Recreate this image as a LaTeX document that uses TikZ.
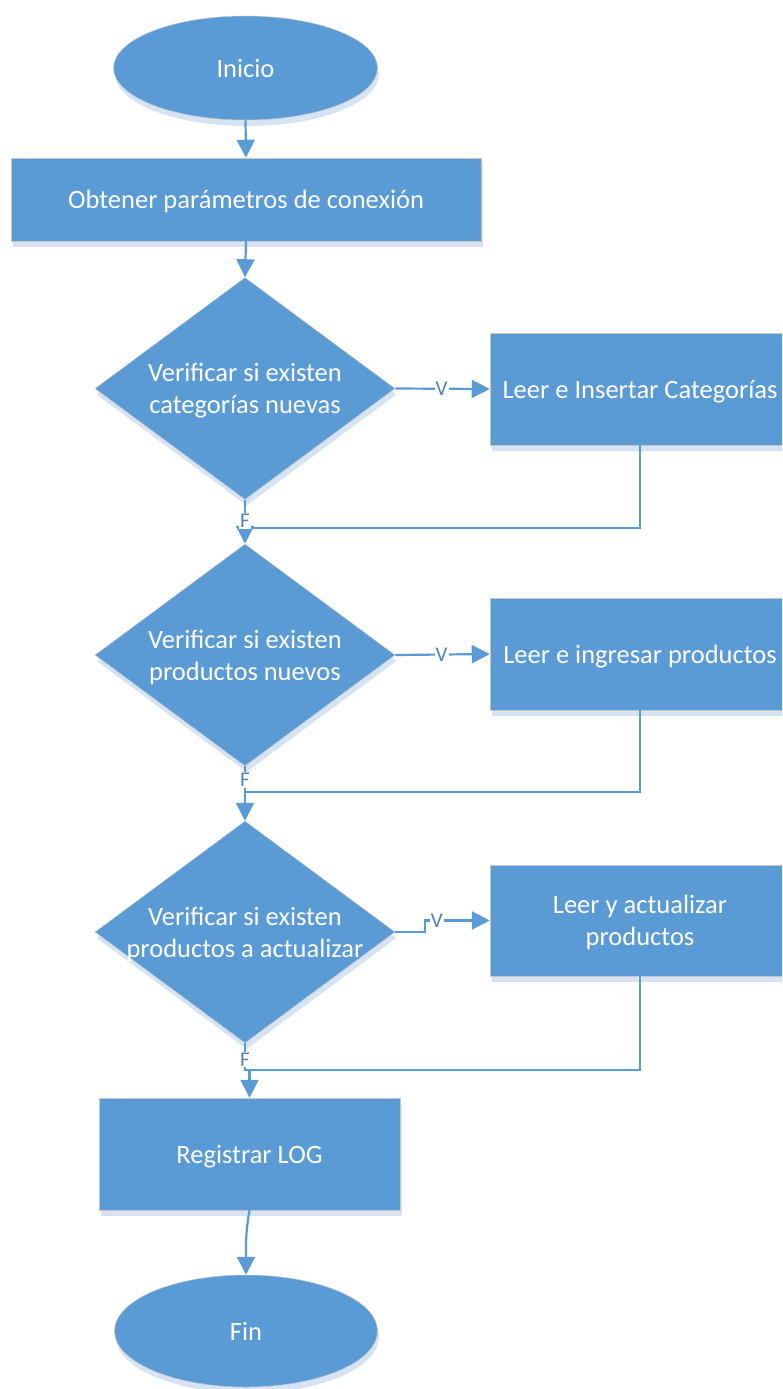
\documentclass[tikz,border=0pt]{standalone}
\usepackage{fontspec}
\setmainfont{Carlito}
\usetikzlibrary{shapes.geometric,arrows.meta,shadows,calc}
\definecolor{boxblue}{HTML}{5B9BD5}
\definecolor{shadowc}{HTML}{D5E3F2}
\definecolor{lblc}{HTML}{4F81BD}
\tikzset{
  shp/.style={fill=boxblue, draw=black!22, line width=0.5pt,
    drop shadow={shadow xshift=1.5pt, shadow yshift=-6pt, fill=shadowc, opacity=1},
    text=white, font=\fontsize{26.5}{32}\selectfont, align=center, inner sep=0pt,
    text depth=0pt},
  term/.style={shp, ellipse},
  proc/.style={shp, rectangle},
  decis/.style={shp, diamond, minimum width=300pt, minimum height=222pt},
  txt/.style={text=white, font=\fontsize{26.5}{32}\selectfont, align=center, inner sep=0pt},
  arr/.style={draw=boxblue, line width=2.2pt, -{Triangle[width=18pt,length=18pt]}},
  ln/.style={draw=boxblue, line width=2.2pt},
  lbl/.style={fill=white, text=lblc, font=\fontsize{21}{24}\selectfont, inner sep=1pt}
}
\begin{document}
\begin{tikzpicture}[x=1pt,y=-1pt]
\useasboundingbox (0,0) rectangle (782,1389);
\clip (0,0) rectangle (782,1389);

\node[term, minimum width=264pt, minimum height=104pt] (inicio) at (245.5,68) {Inicio};
\node[proc, minimum width=470pt, minimum height=83pt] (obt) at (246,199.5) {Obtener parámetros de conexión};

\node[decis] (d1) at (245,388.5) {};
\node[txt] (t1) at ($(d1.center)+(0,2)$) {Verificar si existen\\categorías nuevas};
\node[proc, minimum width=300pt, minimum height=112pt] (c1) at (640,389) {Leer e Insertar Categorías};

\node[decis] (d2) at (245,655) {};
\node[txt] (t2) at ($(d2.center)+(0,2)$) {Verificar si existen\\productos nuevos};
\node[proc, minimum width=300pt, minimum height=112pt] (c2) at (640,654) {Leer e ingresar productos};

\node[decis] (d3) at (245,932) {};
\node[txt] (t3) at ($(d3.center)+(0,2)$) {Verificar si existen\\productos a actualizar};
\node[proc, minimum width=300pt, minimum height=111pt] (c3) at (640,920.5) {Leer y actualizar\\productos};

\node[proc, minimum width=301pt, minimum height=112pt] (reg) at (249.5,1154) {Registrar LOG};
\node[term, minimum width=263pt, minimum height=112pt] (fin) at (246,1331) {Fin};

\coordinate (j1) at (245,528);
\coordinate (j2) at (245,792);
\coordinate (j3) at (249.5,1070);

\draw[arr] (inicio.south) -- (obt.north);
\draw[arr] (obt.south) -- (d1.north);

\draw[arr] (d1.east) -- node[lbl, pos=0.49] (v1) {V} (c1.west);
\draw[ln] (c1.south) |- (j1);
\draw[arr] (d1.south) -- node[lbl, pos=0.48] (f1) {F} (d2.north);

\draw[arr] (d2.east) -- node[lbl, pos=0.49] (v2) {V} (c2.west);
\draw[ln] (c2.south) |- (j2);
\draw[arr] (d2.south) -- node[lbl, pos=0.25] (f2) {F} (d3.north);

\draw[arr] (d3.east) -- ++(30,0) |- node[lbl, pos=0.59] (v3) {V} (c3.west);
\draw[ln] (c3.south) |- (j3);
\draw[arr] (d3.south) |- node[lbl, pos=0.3] (f3) {F} (j3) -- (reg.north);

\draw[arr] (reg.south) to[out=-100, in=90] (fin.north);
\end{tikzpicture}
\end{document}
